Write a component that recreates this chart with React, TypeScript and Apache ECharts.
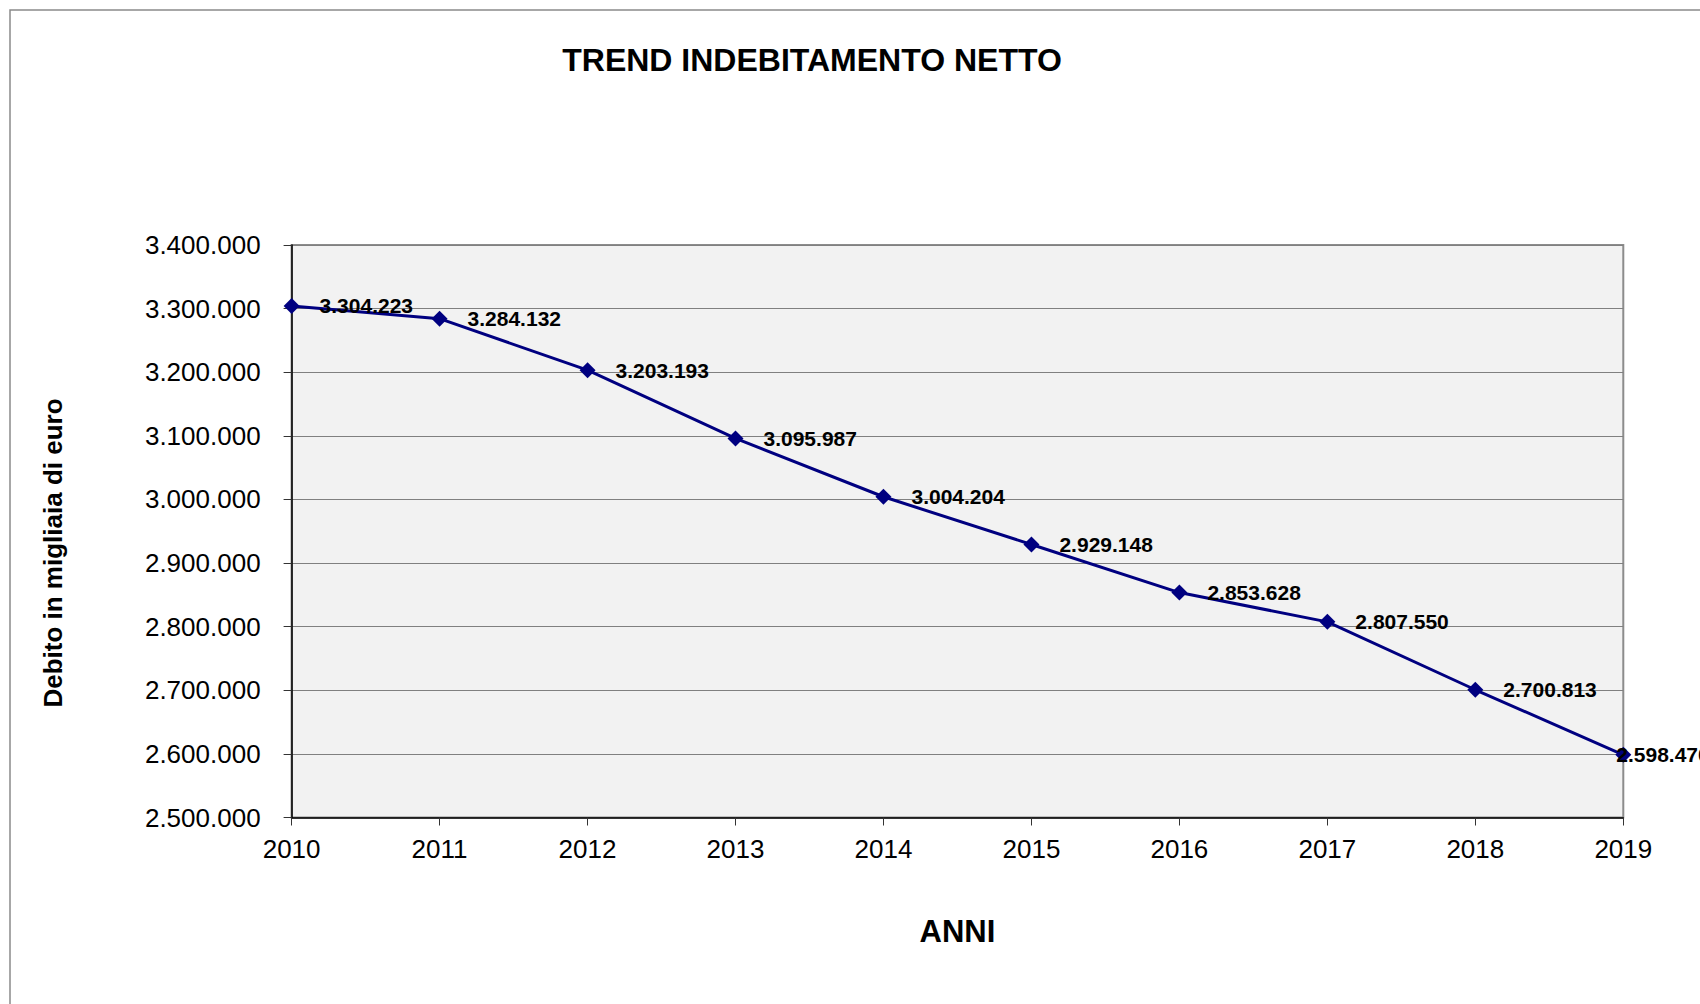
import React, { useEffect, useRef } from "react";
import * as echarts from "echarts";

const years = ["2010", "2011", "2012", "2013", "2014", "2015", "2016", "2017", "2018", "2019"];
const debt = [3304223, 3284132, 3203193, 3095987, 3004204, 2929148, 2853628, 2807550, 2700813, 2598470];
const yMin = 2500000;
const yMax = 3400000;
const yStep = 100000;

const FONT = '"Liberation Sans", Arial, Helvetica, sans-serif';

function fmt(v: number): string {
  return Math.round(v)
    .toString()
    .replace(/\B(?=(\d{3})+(?!\d))/g, ".");
}

export default function App() {
  const ref = useRef<HTMLDivElement>(null);

  useEffect(() => {
    if (!ref.current) return;
    const chart = echarts.init(ref.current, null, { renderer: "svg" });
    const lastIdx = debt.length - 1;
    const seriesData = debt.map((v, i) => ({
      value: v,
      label: {
        position: i === lastIdx ? [1, 8] : [36, 8],
      },
    }));
    chart.setOption({
      animation: false,
      backgroundColor: "#ffffff",
      textStyle: { fontFamily: FONT },
      graphic: [
        {
          type: "rect",
          shape: { x: 10, y: 10, width: 1800, height: 1100 },
          style: { fill: "none", stroke: "#8a8a8a", lineWidth: 1.5 },
          silent: true,
          z: -10,
        },
        {
          type: "text",
          x: 812,
          y: 60,
          style: {
            text: "TREND INDEBITAMENTO NETTO",
            font: `bold 32px ${FONT}`,
            fill: "#000",
            textAlign: "center",
            textVerticalAlign: "middle",
          },
        },
        {
          type: "text",
          x: 53,
          y: 553,
          rotation: Math.PI / 2,
          style: {
            text: "Debito in migliaia di euro",
            font: `bold 26px ${FONT}`,
            fill: "#000",
            textAlign: "center",
            textVerticalAlign: "middle",
          },
        },
      ],
      grid: {
        left: 291.6,
        top: 245,
        right: 76.7,
        bottom: 186.5,
        show: true,
        backgroundColor: "#f2f2f2",
        borderColor: "#8c8c8c",
        borderWidth: 2,
      },
      xAxis: {
        type: "category",
        data: years,
        boundaryGap: false,
        name: "ANNI",
        nameLocation: "middle",
        nameGap: 98,
        nameTextStyle: { fontFamily: FONT, fontSize: 31, fontWeight: "bold", color: "#000" },
        axisLine: { show: true, lineStyle: { color: "#000", width: 1.5 } },
        axisTick: { show: true, length: 8, lineStyle: { color: "#333", width: 1 } },
        axisLabel: { fontFamily: FONT, fontSize: 26, color: "#000", margin: 18, interval: 0 },
        splitLine: { show: false },
      },
      yAxis: {
        type: "value",
        min: yMin,
        max: yMax,
        interval: yStep,
        axisLine: { show: true, lineStyle: { color: "#000", width: 1.5 } },
        axisTick: { show: true, length: 8, lineStyle: { color: "#333", width: 1 } },
        axisLabel: {
          fontFamily: FONT,
          fontSize: 26,
          color: "#000",
          margin: 31,
          formatter: (v: number) => fmt(v),
        },
        splitLine: { show: true, lineStyle: { color: "#808080", width: 1 } },
      },
      series: [
        {
          type: "line",
          data: seriesData,
          symbol: "diamond",
          symbolSize: 16,
          itemStyle: { color: "#000080" },
          lineStyle: { color: "#000080", width: 3 },
          label: {
            show: true,
            align: "left",
            verticalAlign: "middle",
            fontFamily: FONT,
            fontSize: 21,
            fontWeight: "bold",
            color: "#000",
            formatter: (p: any) => fmt(p.value),
          },
        },
      ],
    });
    return () => chart.dispose();
  }, []);

  return (
    <div
      ref={ref}
      style={{ position: "absolute", left: 0, top: 0, width: 1700, height: 1004 }}
    />
  );
}
